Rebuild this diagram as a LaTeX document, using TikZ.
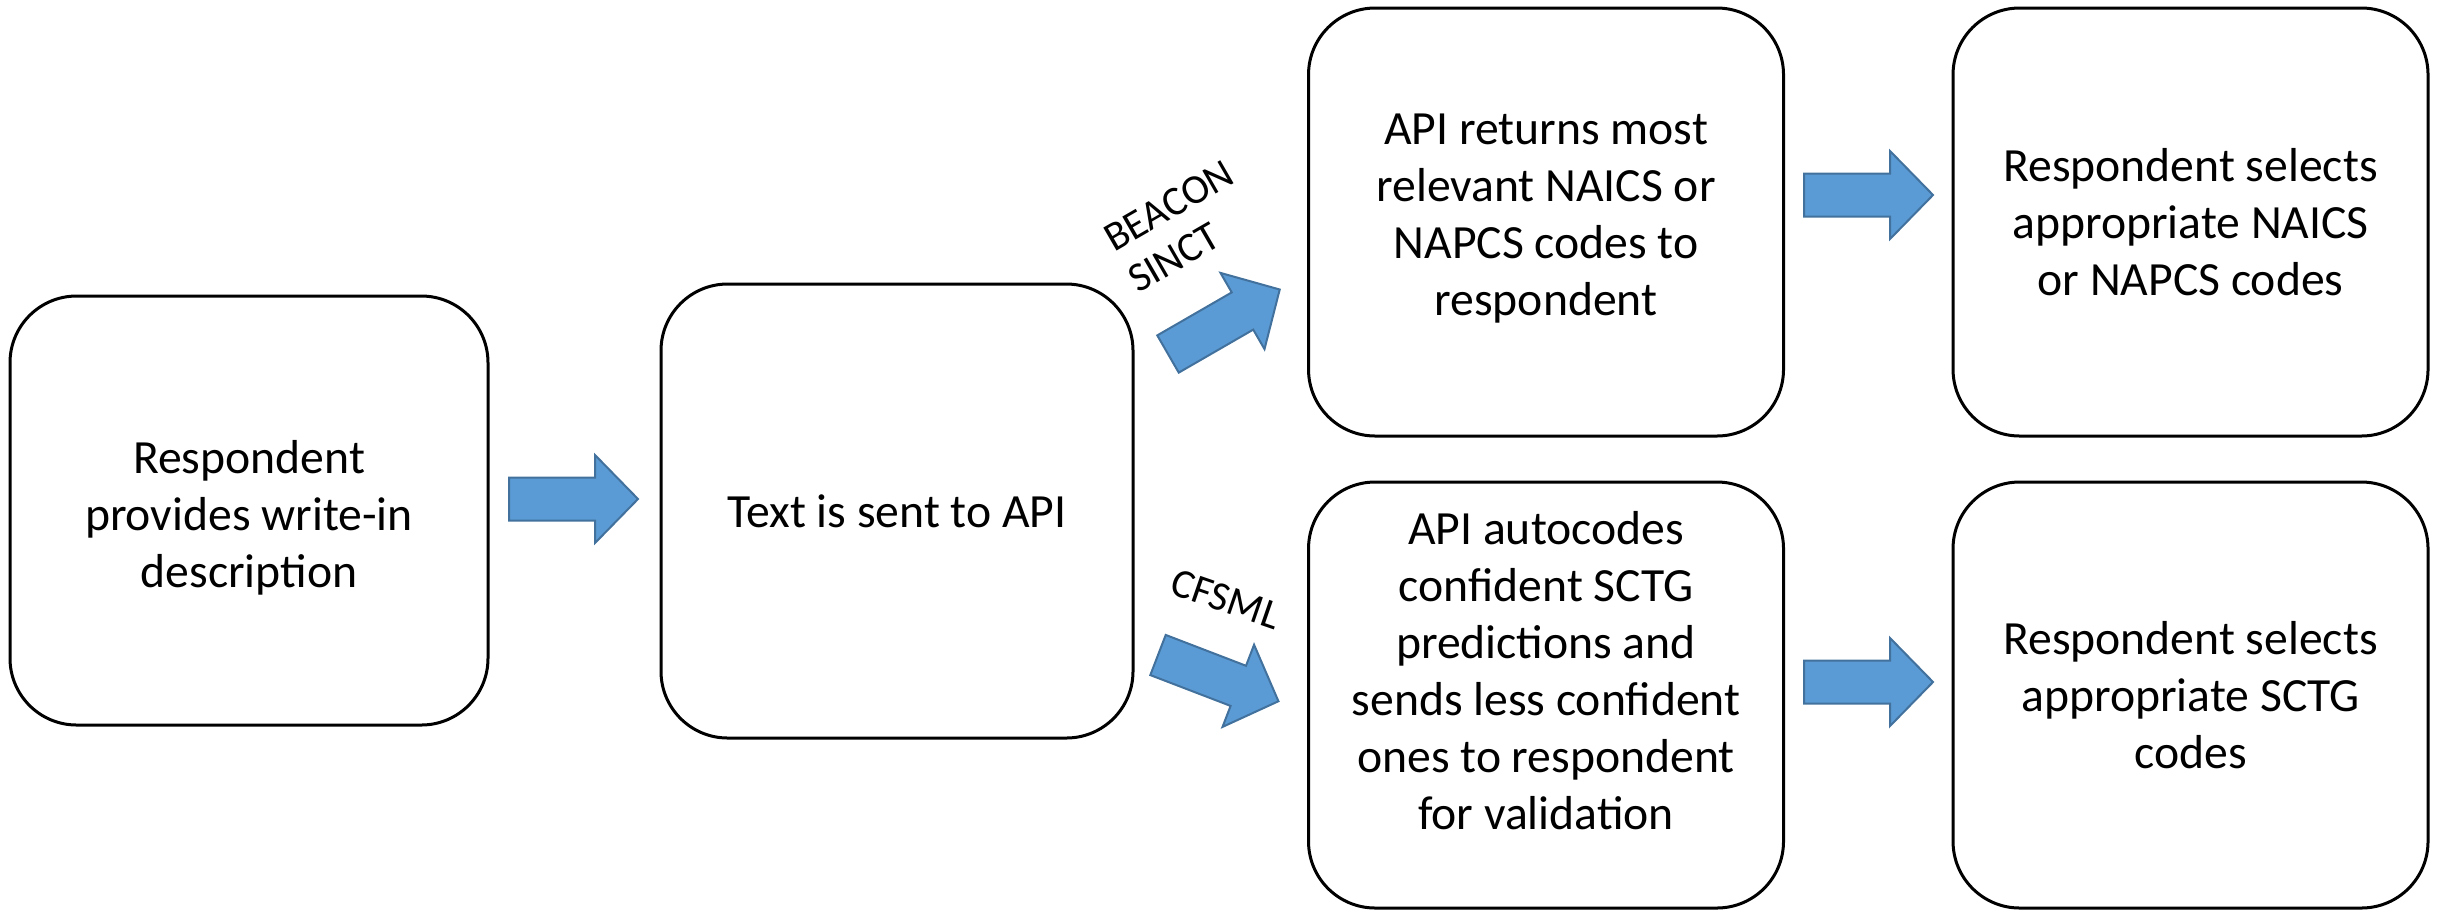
\documentclass[tikz,border=0pt]{standalone}
\usepackage{fontspec}
\setmainfont{Carlito}
\definecolor{arrfill}{HTML}{5B9BD5}
\definecolor{arrdraw}{HTML}{41719C}
\tikzset{
  box/.style={draw=black, line width=0.9pt, rounded corners=20pt, inner sep=0pt},
  txt/.style={font=\fontsize{14.3pt}{17.1pt}\selectfont, align=center, inner sep=0pt},
  lbl/.style={font=\fontsize{12.4pt}{14.3pt}\selectfont, align=left, inner sep=0pt},
  barrow/.pic={\draw[fill=arrfill, draw=arrdraw, line width=0.6pt, line join=miter]
    (0,-21.5) -- (86,-21.5) -- (86,-44) -- (129,0) -- (86,44) -- (86,21.5) -- (0,21.5) -- cycle;}
}
\begin{document}
\begin{tikzpicture}[x=0.3pt,y=-0.3pt]
\useasboundingbox (0,0) rectangle (2438,914);
\node[box, minimum width=143.4pt, minimum height=128.7pt] (b1) at (249,510.5) {};
\node[box, minimum width=141.6pt, minimum height=136.2pt] (b2) at (897,511) {};
\node[box, minimum width=142.5pt, minimum height=128.4pt] (b3) at (1546,222) {};
\node[box, minimum width=142.5pt, minimum height=128.4pt] (b4) at (2190.5,222) {};
\node[box, minimum width=142.5pt, minimum height=127.8pt] (b5) at (1546,695) {};
\node[box, minimum width=142.5pt, minimum height=127.8pt] (b6) at (2190.5,695) {};
\node[txt] (t1) at ([yshift=-2.1pt]b1.center) {Respondent\\provides write-in\\description};
\node[txt] (t2) at (b2.center) {Text is sent to API};
\node[txt] (t3) at ([yshift=1pt]b3.center) {API returns most\\relevant NAICS or\\NAPCS codes to\\respondent};
\node[txt] (t4) at (b4.center) {Respondent selects\\appropriate NAICS\\or NAPCS codes};
\node[txt] (t5) at ([yshift=7.2pt]b5.center) {API autocodes\\confident SCTG\\predictions and\\sends less confident\\ones to respondent\\for validation};
\node[txt] (t6) at (b6.center) {Respondent selects\\appropriate SCTG\\codes};
\pic at (509,499) {barrow};
\pic[rotate=30] at (1168,354) {barrow};
\pic[rotate=-21] at (1158,655) {barrow};
\pic at (1804,195) {barrow};
\pic at (1804,682) {barrow};
\node[lbl, rotate=30, anchor=north west] (l1) at (1100,229) {BEACON\\SINCT};
\node[lbl, rotate=-19] (l2) at (1226,599) {CFSML};
\end{tikzpicture}
\end{document}
